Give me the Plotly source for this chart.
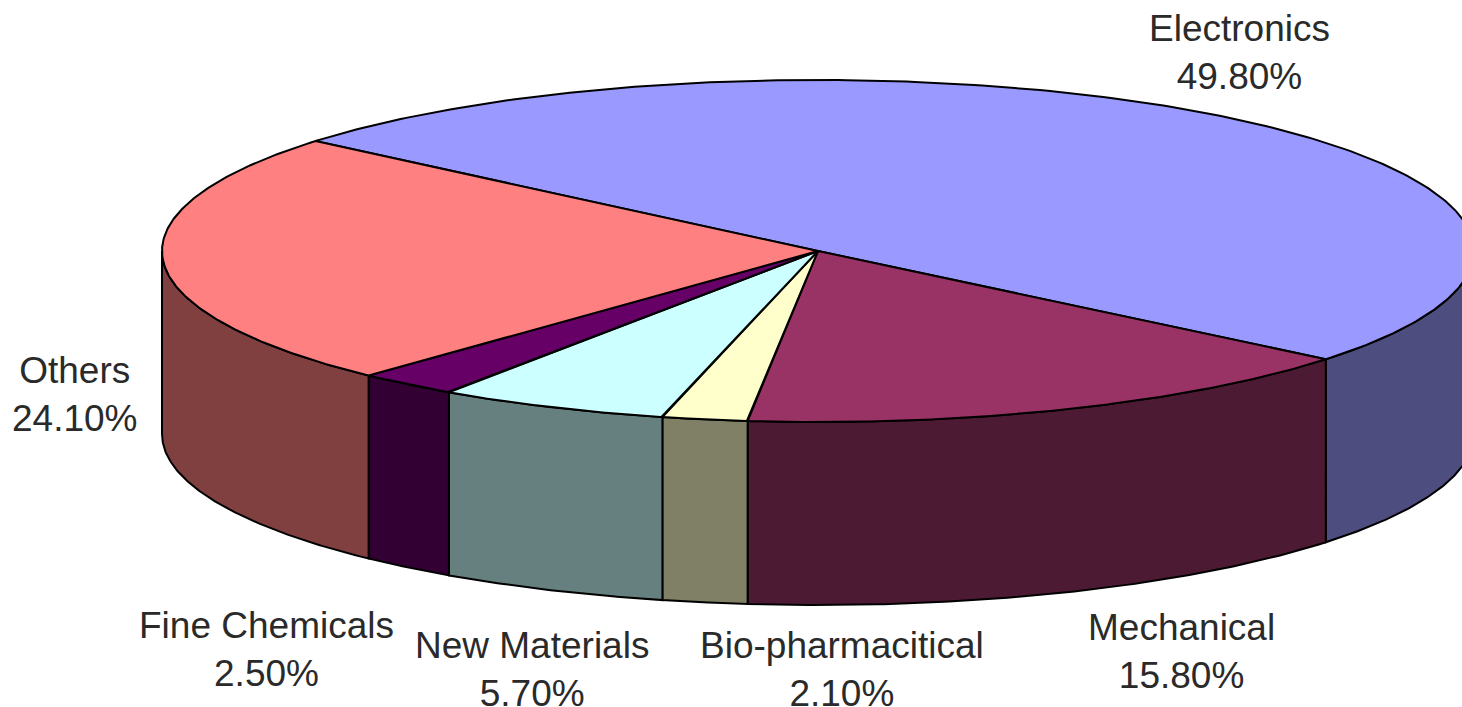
import numpy as np
import plotly.graph_objects as go

# Data
categories = ["Electronics", "Mechanical", "Bio-pharmacitical", "New Materials", "Fine Chemicals", "Others"]
values = [49.8, 15.8, 2.1, 5.7, 2.5, 24.1]
value_labels = ["49.80%", "15.80%", "2.10%", "5.70%", "2.50%", "24.10%"]

# Style
top_colors = ["#9999FF", "#993366", "#FFFFCC", "#CCFFFF", "#660066", "#FF8080"]
side_colors = ["#4D4D80", "#4D1A33", "#808066", "#668080", "#330033", "#804040"]
label_x = [1239, 1181, 842, 532, 266, 75]
label_y = [52, 651, 669, 669, 649, 394]

# Projection of the pie
CX, CY, RX, RY, DEPTH = 818, 251, 656, 171, 183
START_DEG = -50

def px(theta):
    return CX + RX * np.sin(np.radians(theta))

def py(theta):
    return CY - RY * np.cos(np.radians(theta))

fig = go.Figure()
cum = START_DEG + np.concatenate([[0], np.cumsum(values)]) * 3.6
line = dict(color="#000000", width=2)

# Visible side walls: front half of the rim, theta in [90, 270]
for i, name in enumerate(categories):
    a, b = max(cum[i], 90), min(cum[i + 1], 270)
    if a >= b:
        continue
    t = np.linspace(a, b, 120)
    x = np.concatenate([px(t), px(t[::-1]), [px(t[0])]])
    y = np.concatenate([py(t), py(t[::-1]) + DEPTH, [py(t[0])]])
    fig.add_trace(go.Scatter(x=x, y=y, mode="lines", fill="toself", fillcolor=side_colors[i],
                             line=line, hoverinfo="skip", showlegend=False))

# Top faces
for i, name in enumerate(categories):
    t = np.linspace(cum[i], cum[i + 1], 240)
    x = np.concatenate([[CX], px(t), [CX]])
    y = np.concatenate([[CY], py(t), [CY]])
    fig.add_trace(go.Scatter(x=x, y=y, mode="lines", fill="toself", fillcolor=top_colors[i],
                             line=line, name=name, text=value_labels[i], hoverinfo="name+text",
                             showlegend=False))

for name, val, lx, ly in zip(categories, value_labels, label_x, label_y):
    fig.add_annotation(x=lx, y=ly, text=f"{name}<br>{val}", showarrow=False, align="center",
                       xanchor="center", yanchor="middle",
                       font=dict(family="Liberation Sans, Arial, sans-serif", size=37, color="#2a2a2a"))

fig.update_xaxes(range=[0, 1462], visible=False, fixedrange=True)
fig.update_yaxes(range=[707, 0], visible=False, fixedrange=True)
fig.update_layout(width=1462, height=707, margin=dict(l=0, r=0, t=0, b=0),
                  paper_bgcolor="white", plot_bgcolor="white", showlegend=False, autosize=False)
fig.write_html("out.html", config={"displayModeBar": False},
               post_script="document.body.style.margin='0';document.body.style.overflow='hidden';")
